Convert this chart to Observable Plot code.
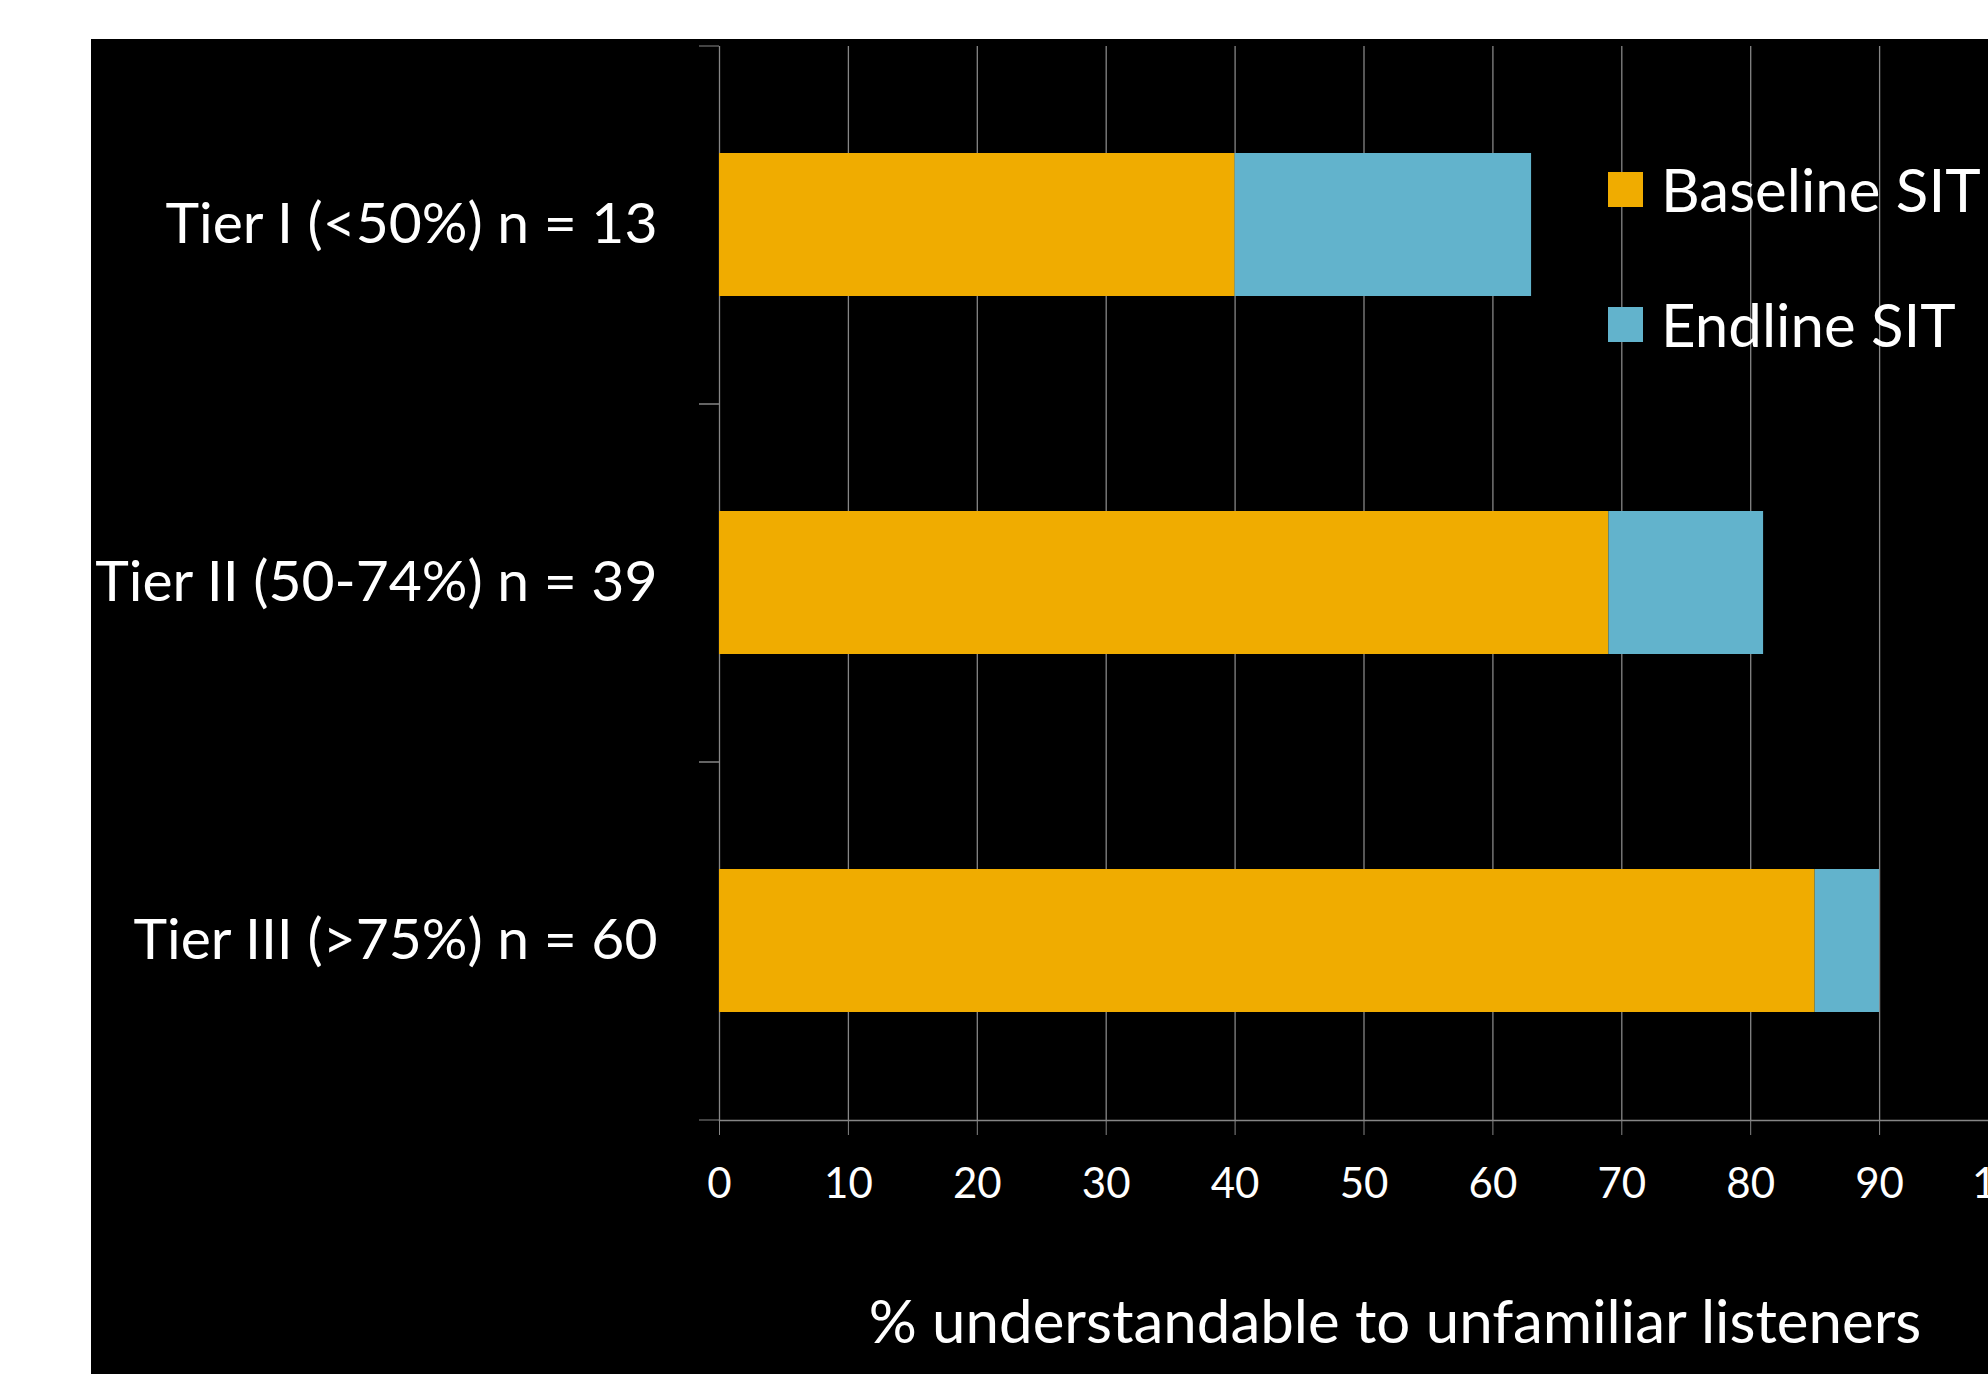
<!DOCTYPE html>
<html>
<head>
<meta charset="utf-8">
<script src="https://cdn.jsdelivr.net/npm/d3@7"></script>
<script src="https://cdn.jsdelivr.net/npm/@observablehq/plot@0.6"></script>
<style>
  html, body { margin: 0; padding: 0; background: #fff; overflow: hidden; width: 1988px; height: 1374px; }
  #panel { position: absolute; left: 91px; top: 39px; width: 1897px; height: 1335px; background: #000; overflow: hidden; font-family: Lato, sans-serif; }
  #chart { position: absolute; left: 0; top: 0; width: 1960px; height: 1335px; }
  #chart svg { max-width: none !important; width: 1960px; height: 1335px; }
  #legend { position: absolute; left: 1517px; top: 133px; }
  .item { display: flex; align-items: center; height: 35px; margin-bottom: 100px; }
  .sw { width: 35px; height: 35px; margin-right: 18px; flex: none; }
  .lab { color: #fff; font-size: 60px; line-height: 35px; white-space: nowrap; }
  #xtitle { position: absolute; left: 704px; width: 1200px; top: 1251px; text-align: center; color: #fff; font-size: 60px; line-height: 60px; white-space: nowrap; }
</style>
</head>
<body>
<div id="panel">
  <div id="chart"></div>
  <div id="legend"></div>
  <div id="xtitle"></div>
</div>
<script>
const categories = ["Tier I (<50%) n = 13", "Tier II (50-74%) n = 39", "Tier III (>75%) n = 60"];
const series = ["Baseline SIT", "Endline SIT"];
const baseline = [40, 69, 85];
const endline = [63, 81, 90];
const colors = ["#F0AC00", "#62B3CC"];
const xTicks = [0, 10, 20, 30, 40, 50, 60, 70, 80, 90, 100];
const xTitle = "% understandable to unfamiliar listeners";

const data = categories.flatMap((c, i) => [
  {tier: c, series: series[0], x1: 0, x2: baseline[i]},
  {tier: c, series: series[1], x1: baseline[i], x2: endline[i]}
]);

const gray = "#868686";
const chart = Plot.plot({
  width: 1960,
  height: 1335,
  marginLeft: 628,
  marginRight: 43,
  marginTop: 7,
  marginBottom: 254,
  style: {background: "transparent", color: "white", fontFamily: "Lato, sans-serif", overflow: "visible", maxWidth: "none"},
  x: {domain: [0, 100], axis: null},
  y: {domain: categories, paddingInner: 0.6, paddingOuter: 0.3, axis: null},
  color: {domain: series, range: colors},
  marks: [
    Plot.gridX(xTicks, {stroke: gray, strokeOpacity: 1, strokeWidth: 1.3}),
    Plot.barX(data, {y: "tier", x1: "x1", x2: "x2", fill: "series"}),
    Plot.frame({anchor: "bottom", stroke: gray, strokeWidth: 1.5}),
    Plot.axisX(xTicks, {tickSize: 15, tickPadding: 33, stroke: gray, fill: "white", fontSize: 42, label: null}),
    Plot.axisY({tickSize: 0, tickPadding: 62, fill: "white", fontSize: 57, label: null}),
    Plot.axisY({tickSize: 20, tickFormat: () => "", dy: -179, stroke: gray, label: null}),
    Plot.axisY({tickSize: 20, tickFormat: () => "", dy: 179, stroke: gray, label: null})
  ]
});
chart.style.maxWidth = "none";
document.getElementById("chart").appendChild(chart);

const legend = document.getElementById("legend");
series.forEach((s, i) => {
  const item = document.createElement("div");
  item.className = "item";
  const sw = document.createElement("div");
  sw.className = "sw";
  sw.style.background = colors[i];
  const lab = document.createElement("div");
  lab.className = "lab";
  lab.textContent = s;
  item.appendChild(sw);
  item.appendChild(lab);
  legend.appendChild(item);
});
document.getElementById("xtitle").textContent = xTitle;
</script>
</body>
</html>
